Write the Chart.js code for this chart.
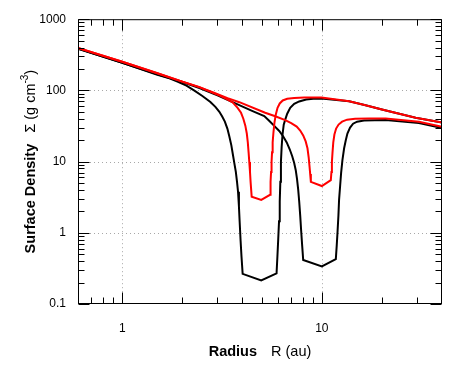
<!DOCTYPE html>
<html>
<head>
<meta charset="utf-8">
<title>Surface density profiles</title>
<script src="https://cdn.jsdelivr.net/npm/chart.js@4.4.1/dist/chart.umd.min.js"></script>
<style>
    html, body { margin: 0; padding: 0; background: #ffffff; }
    canvas { display: block; }
</style>
</head>
<body>
<canvas id="sigmaChart" width="464" height="370"></canvas>
<script>
// Values: radius R (au) and surface density (g cm^-3)
var radiusRedA = [0.6, 1, 1.5, 2.0, 2.435, 2.894, 3.137, 3.373, 3.573, 3.784, 3.936, 4.042, 4.136, 4.207, 4.256, 4.295, 4.33, 4.365, 4.395, 4.45,
    4.97, 5.5, 5.534, 5.566, 5.598, 5.63, 5.669, 5.721, 5.788, 5.875, 5.998, 6.152, 6.368, 6.706, 7.268, 8.157, 9.95, 13.7, 16.56, 20, 29.5, 40];
var sigmaRedA = [395, 252, 174, 133, 111, 90.6, 82.6, 74.1, 67.8, 56.9, 48.5, 40.0, 32.0, 24.8, 18.6, 13.5, 9.85, 7.16, 5.2, 3.22,
    2.9, 3.41, 5.2, 7.16, 9.85, 13.5, 18.6, 25.6, 35.3, 45.5, 56.9, 65.6, 72.2, 76.3, 78.2, 79.5, 79.5, 70.4, 61.9, 53.8, 41.3, 35.3];

var radiusRedB = [0.6, 1, 1.5, 2.0, 2.435, 2.9, 3.37, 3.86, 5.2, 5.841, 6.554, 7.022, 7.482, 7.79, 8.064, 8.299, 8.472, 8.59, 8.68, 8.74, 8.81,
    10, 11.09, 11.17, 11.23, 11.31, 11.41, 11.56, 11.79, 12.13, 12.63, 13.38, 14.67, 17.24, 20.89, 30.65, 40];
var sigmaRedB = [395, 252, 174, 133, 111, 92, 78, 68.3, 48.6, 43.4, 38.2, 34.7, 31.0, 27.3, 23.3, 19.2, 15.4, 11.5, 8.39, 6.71, 5.2,
    4.54, 5.5, 7.16, 9.85, 13.5, 18.6, 24.0, 29.1, 33.1, 36.4, 38.8, 40.0, 40.4, 40.4, 36.4, 30.9];

var radiusBlackA = [0.6, 1, 1.5, 1.724, 1.89, 2.097, 2.299, 2.52, 2.764, 2.928, 3.066, 3.172, 3.266, 3.362, 3.44, 3.52, 3.581, 3.643, 3.707, 3.758,
    3.802, 3.842, 3.873, 3.917, 3.958, 4.01, 4.97, 5.93, 5.991, 6.046, 6.102, 6.152, 6.194, 6.237, 6.288, 6.353, 6.442, 6.554, 6.706, 6.942,
    7.268, 7.701, 8.347, 9.047, 9.95, 13.7, 16.56, 20, 29.5, 40];
var sigmaBlackA = [385, 245, 166, 148, 133, 116.6, 99.4, 83.4, 68.9, 58.7, 50.1, 42.7, 36.4, 29.1, 22.5, 16.9, 12.7, 9.53, 7.16, 5.2,
    3.78, 2.34, 1.45, 0.767, 0.46, 0.265, 0.214, 0.27, 0.475, 0.818, 1.45, 2.75, 5.2, 9.85, 15.9, 24.0, 33.1, 38.8, 47.0, 56.9,
    64.6, 70.0, 74.6, 76.5, 77.0, 70.4, 61.9, 53.8, 41.3, 35.3];

var radiusBlackB = [0.6, 1, 1.5, 2.0, 2.435, 3.0, 3.64, 4.5, 5.146, 5.46, 5.774, 6.116, 6.405, 6.668, 6.902, 7.105, 7.268, 7.396, 7.508, 7.612,
    7.701, 7.79, 7.88, 7.971, 8.064, 10, 11.75, 11.87, 11.99, 12.11, 12.2, 12.35, 12.49, 12.68, 12.93, 13.18, 13.43, 13.85, 14.34, 15.02,
    16.27, 20.89, 30.65, 40];
var sigmaBlackB = [385, 245, 168, 131, 108, 85, 66.7, 51.2, 43.6, 37.2, 31.7, 26.9, 22.5, 18.6, 14.9, 11.9, 9.53, 7.63, 5.72, 4.03,
    2.75, 1.76, 1.05, 0.654, 0.415, 0.338, 0.428, 0.654, 1.05, 1.76, 2.93, 4.58, 6.93, 10.5, 15.4, 19.9, 24.8, 30.0, 34.1, 36.4,
    37.8, 38.4, 34.7, 29.6];

var xTickValues = [1, 10];
var yTickValues = [0.1, 1, 10, 100, 1000];
var xMinorValues = [0.7, 0.8, 0.9, 2, 3, 4, 5, 6, 7, 8, 9, 20, 30];
var yMinorValues = [0.2, 0.3, 0.4, 0.5, 0.6, 0.7, 0.8, 0.9, 2, 3, 4, 5, 6, 7, 8, 9,
    20, 30, 40, 50, 60, 70, 80, 90, 200, 300, 400, 500, 600, 700, 800, 900];

function toPoints(xs, ys) {
    return xs.map(function (x, i) { return { x: x, y: ys[i] }; });
}

function curve(xs, ys, color, order) {
    return {
        data: toPoints(xs, ys),
        borderColor: color,
        borderWidth: 2,
        pointRadius: 0,
        fill: false,
        tension: 0,
        order: order
    };
}

var fontFamily = '"Liberation Sans", Arial, Helvetica, sans-serif';

// Dotted grid, frame, inward ticks and axis titles
var frameAndTicks = {
    id: 'frameAndTicks',
    beforeDatasetsDraw: function (chart) {
        var ctx = chart.ctx, area = chart.chartArea;
        var xs = chart.scales.x, ys = chart.scales.y;
        ctx.save();
        ctx.strokeStyle = '#a8a8a8';
        ctx.lineWidth = 1;
        ctx.setLineDash([1, 3]);
        ctx.beginPath();
        xTickValues.forEach(function (v) {
            var px = Math.round(xs.getPixelForValue(v)) + 0.5;
            ctx.moveTo(px, area.top);
            ctx.lineTo(px, area.bottom);
        });
        [1, 10, 100].forEach(function (v) {
            var py = Math.round(ys.getPixelForValue(v)) + 0.5;
            ctx.moveTo(area.left, py);
            ctx.lineTo(area.right, py);
        });
        ctx.stroke();
        ctx.restore();
    },
    afterDatasetsDraw: function (chart) {
        var ctx = chart.ctx, area = chart.chartArea;
        var xs = chart.scales.x, ys = chart.scales.y;
        var left = area.left + 0.5, right = area.right - 0.5;
        var top = area.top + 0.5, bottom = area.bottom - 0.5;
        ctx.save();
        ctx.strokeStyle = '#000000';
        ctx.lineWidth = 1;
        ctx.setLineDash([]);
        ctx.strokeRect(left, top, right - left, bottom - top);

        ctx.beginPath();
        function xTick(v, len) {
            var px = Math.round(xs.getPixelForValue(v)) + 0.5;
            ctx.moveTo(px, bottom); ctx.lineTo(px, bottom - len);
            ctx.moveTo(px, top); ctx.lineTo(px, top + len);
        }
        function yTick(v, len) {
            var py = Math.round(ys.getPixelForValue(v)) + 0.5;
            ctx.moveTo(left, py); ctx.lineTo(left + len, py);
            ctx.moveTo(right, py); ctx.lineTo(right - len, py);
        }
        xTickValues.forEach(function (v) { xTick(v, 11); });
        xMinorValues.forEach(function (v) { xTick(v, 6); });
        yTickValues.forEach(function (v) { yTick(v, 11); });
        yMinorValues.forEach(function (v) { yTick(v, 6); });
        ctx.stroke();

        // x axis title: bold word, then the symbol and unit
        ctx.fillStyle = '#000000';
        ctx.textBaseline = 'middle';
        ctx.textAlign = 'left';
        var bold = 'bold 14.5px ' + fontFamily;
        var normal = '14.5px ' + fontFamily;
        var small = '10px ' + fontFamily;
        ctx.font = bold;
        var w1 = ctx.measureText('Radius').width;
        ctx.font = normal;
        var w2 = ctx.measureText('R (au)').width;
        var gap = 14;
        var cx = (area.left + area.right) / 2;
        var x0 = cx - (w1 + gap + w2) / 2;
        ctx.font = bold;
        ctx.fillText('Radius', x0, 352);
        ctx.font = normal;
        ctx.fillText('R (au)', x0 + w1 + gap, 352);

        // y axis title, rotated
        ctx.save();
        ctx.translate(31, (area.top + area.bottom) / 2);
        ctx.rotate(-Math.PI / 2);
        ctx.font = bold;
        var a = ctx.measureText('Surface Density').width;
        ctx.font = normal;
        var b = ctx.measureText('\u03A3 (g cm').width;
        ctx.font = small;
        var c = ctx.measureText('-3').width;
        ctx.font = normal;
        var d = ctx.measureText(')').width;
        var gap2 = 11;
        var s = -(a + gap2 + b + c + d) / 2;
        ctx.font = bold;
        ctx.fillText('Surface Density', s, 0);
        ctx.font = normal;
        ctx.fillText('\u03A3 (g cm', s + a + gap2, 0);
        ctx.font = small;
        ctx.fillText('-3', s + a + gap2 + b, -6);
        ctx.font = normal;
        ctx.fillText(')', s + a + gap2 + b + c, 0);
        ctx.restore();

        ctx.restore();
    }
};

var ctx = document.getElementById('sigmaChart');
new Chart(ctx, {
    type: 'line',
    data: {
        datasets: [
            curve(radiusRedA, sigmaRedA, '#ff0000', 1),
            curve(radiusRedB, sigmaRedB, '#ff0000', 1),
            curve(radiusBlackA, sigmaBlackA, '#000000', 2),
            curve(radiusBlackB, sigmaBlackB, '#000000', 2)
        ]
    },
    options: {
        responsive: false,
        animation: false,
        devicePixelRatio: 1,
        layout: {
            padding: { top: 15, right: 22, left: 0, bottom: 0 }
        },
        plugins: {
            legend: { display: false },
            tooltip: { enabled: false }
        },
        scales: {
            x: {
                type: 'logarithmic',
                min: 0.6,
                max: 40,
                grid: { display: false, drawTicks: false },
                border: { display: false },
                afterBuildTicks: function (scale) {
                    scale.ticks = xTickValues.map(function (v) { return { value: v }; });
                },
                afterFit: function (scale) { scale.height = 66; },
                ticks: {
                    autoSkip: false,
                    maxRotation: 0,
                    padding: 17,
                    color: '#000000',
                    font: { size: 12, family: fontFamily },
                    callback: function (v) { return String(v); }
                }
            },
            y: {
                type: 'logarithmic',
                min: 0.1,
                max: 1000,
                grid: { display: false, drawTicks: false },
                border: { display: false },
                afterBuildTicks: function (scale) {
                    scale.ticks = yTickValues.map(function (v) { return { value: v }; });
                },
                afterFit: function (scale) { scale.width = 78; },
                ticks: {
                    autoSkip: false,
                    padding: 12,
                    color: '#000000',
                    font: { size: 12, family: fontFamily },
                    callback: function (v) { return String(v); }
                }
            }
        }
    },
    plugins: [frameAndTicks]
});
</script>
</body>
</html>
